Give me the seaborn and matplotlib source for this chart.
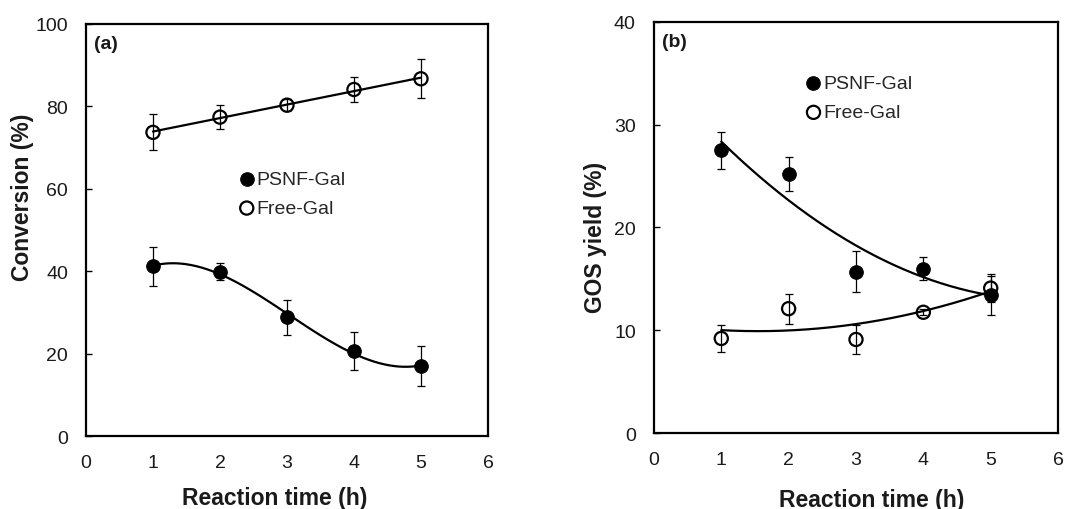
import numpy as np
import pandas as pd
import matplotlib
matplotlib.use("Agg")
import matplotlib.pyplot as plt
import seaborn as sns

# Reaction time (h)
time_h = [1, 2, 3, 4, 5]

# (a) Conversion (%)
conv_psnf = [41.2, 39.9, 28.8, 20.6, 17.0]
conv_psnf_err = [4.8, 2.0, 4.3, 4.6, 4.9]
conv_free = [73.7, 77.4, 80.3, 84.1, 86.7]
conv_free_err = [4.4, 3.0, 1.5, 3.0, 4.7]

# (b) GOS yield (%)
gos_psnf = [27.5, 25.2, 15.7, 16.0, 13.4]
gos_psnf_err = [1.8, 1.65, 2.0, 1.1, 1.9]
gos_free = [9.2, 12.1, 9.1, 11.75, 14.1]
gos_free_err = [1.35, 1.45, 1.4, 0.3, 1.35]

series_labels = ["PSNF-Gal", "Free-Gal"]

sns.set_theme(style="white")
plt.rcParams["font.family"] = ["Liberation Sans", "DejaVu Sans"]

fig = plt.figure(figsize=(10.72, 5.10), dpi=100)
ax_a = fig.add_axes([0.0802, 0.143, 0.375, 0.808])
ax_b = fig.add_axes([0.610, 0.149, 0.377, 0.806])

TXT = "#1a1a1a"


def trend(ax, x, y, order):
    coef = np.polyfit(x, y, order)
    xs = np.linspace(min(x), max(x), 200)
    df = pd.DataFrame({"x": xs, "y": np.polyval(coef, xs)})
    sns.lineplot(data=df, x="x", y="y", ax=ax, color="black", lw=1.6,
                 legend=False, zorder=2)


def points(ax, x, y, err, filled, label):
    ax.errorbar(x, y, yerr=err, fmt="none", ecolor="black", elinewidth=0.9,
                capsize=2.8, capthick=0.9, zorder=3)
    df = pd.DataFrame({"x": x, "y": y})
    if filled:
        sns.scatterplot(data=df, x="x", y="y", ax=ax, s=95, color="black",
                        edgecolor="black", linewidth=0.8, zorder=4, label=label)
    else:
        sns.scatterplot(data=df, x="x", y="y", ax=ax, s=90, facecolor="none",
                        edgecolor="black", linewidth=1.6, zorder=4, label=label)


def style(ax, ylim, yticks, ylabel, tag, xlab_xy, ylab_xy, leg_anchor):
    ax.set_xlim(0, 6)
    ax.set_ylim(*ylim)
    ax.set_xticks(range(0, 7))
    ax.set_yticks(yticks)
    for s in ax.spines.values():
        s.set_visible(True)
        s.set_color("black")
        s.set_linewidth(1.6)
    ax.tick_params(axis="y", direction="in", length=4, width=1, color="black",
                   pad=13, labelsize=14, labelcolor=TXT, left=True)
    ax.tick_params(axis="x", length=0, pad=13, labelsize=14, labelcolor=TXT)
    ax.set_xlabel("Reaction time (h)", fontsize=16.5, fontweight="bold", color=TXT)
    ax.set_ylabel(ylabel, fontsize=16.5, fontweight="bold", color=TXT)
    ax.xaxis.set_label_coords(*xlab_xy)
    ax.yaxis.set_label_coords(*ylab_xy)
    ax.text(0.02, 0.952, tag, transform=ax.transAxes, fontsize=14,
            fontweight="bold", va="center", ha="left", color=TXT)
    ax.legend(loc="upper left", bbox_to_anchor=leg_anchor, frameon=False,
              fontsize=14, handlelength=0.7, handletextpad=0.15,
              borderpad=0, borderaxespad=0, labelspacing=0.6,
              markerscale=1.0)


# (a) conversion
trend(ax_a, time_h, conv_psnf, 3)
trend(ax_a, time_h, conv_free, 1)
points(ax_a, time_h, conv_psnf, conv_psnf_err, True, series_labels[0])
points(ax_a, time_h, conv_free, conv_free_err, False, series_labels[1])
style(ax_a, (0, 100), range(0, 101, 20), "Conversion (%)", "(a)",
      (0.47, -0.121), (-0.13, 0.581), (0.383, 0.645))

# (b) GOS yield
trend(ax_b, time_h, gos_psnf, 2)
trend(ax_b, time_h, gos_free, 2)
points(ax_b, time_h, gos_psnf, gos_psnf_err, True, series_labels[0])
points(ax_b, time_h, gos_free, gos_free_err, False, series_labels[1])
style(ax_b, (0, 40), range(0, 41, 10), "GOS yield (%)", "(b)",
      (0.54, -0.134), (-0.117, 0.478), (0.378, 0.872))

fig.savefig("out.png", dpi=100, facecolor="white")
